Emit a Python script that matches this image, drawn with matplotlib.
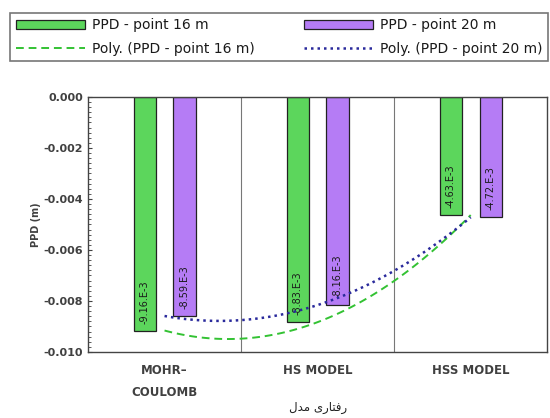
import matplotlib
matplotlib.use("Agg")
import matplotlib.pyplot as plt
import numpy as np
from matplotlib.ticker import MultipleLocator, FuncFormatter

# data
categories = ["MOHR\u2013\nCOULOMB", "HS MODEL", "HSS MODEL"]
ppd_16m = [-9.16e-3, -8.83e-3, -4.63e-3]
ppd_20m = [-8.59e-3, -8.16e-3, -4.72e-3]
series_names = ["PPD - point 16 m", "PPD - point 20 m"]
# "مدل رفتاری" as joined presentation forms, words laid out as in the reference
xlabel_fa = "\uFEDD\uFEAA\uFEE3 \uFEEF\uFEAD\uFE8E\uFE98\uFED3\uFEAD"

GREEN = "#5cd65c"
PURPLE = "#b57cf5"
DARK = "#404040"


def bar_label(ax, x, v):
    ax.annotate(f"{v * 1000:.2f}.E-3", (x, v), xytext=(0, 5), textcoords="offset points",
                rotation=90, ha="center", va="bottom", fontsize=7, color="#1a1a1a")


fig = plt.figure(figsize=(5.5, 4.18), dpi=100)
ax = fig.add_axes([0.16, 0.158, 0.835, 0.61])

x = np.arange(1, len(categories) + 1)
w = 0.145
off = 0.13
b1 = ax.bar(x - off, ppd_16m, w, color=GREEN, edgecolor="#222222", linewidth=0.9,
            label=series_names[0], zorder=2)
b2 = ax.bar(x + off, ppd_20m, w, color=PURPLE, edgecolor="#222222", linewidth=0.9,
            label=series_names[1], zorder=2)
for xi, v in zip(x - off, ppd_16m):
    bar_label(ax, xi, v)
for xi, v in zip(x + off, ppd_20m):
    bar_label(ax, xi, v)

# order-2 polynomial trendlines like Excel
xs = np.linspace(1, 3, 100)
p16 = np.polyfit(x, ppd_16m, 2)
p20 = np.polyfit(x, ppd_20m, 2)
l1, = ax.plot(xs, np.polyval(p16, xs), color="#33c233", ls=(0, (4, 2.5)), lw=1.4,
              label="Poly. (" + series_names[0] + ")", zorder=3)
l2, = ax.plot(xs, np.polyval(p20, xs), color="#2a2a9c", ls=(0, (1, 1.6)), lw=1.8,
              label="Poly. (" + series_names[1] + ")", zorder=3)

# category separators
for s in [1.5, 2.5]:
    ax.axvline(s, color="#777777", lw=0.8, zorder=1)

ax.set_xlim(0.5, 3.5)
ax.set_ylim(-0.010, 0.0)
ax.yaxis.set_major_locator(MultipleLocator(0.002))
ax.yaxis.set_minor_locator(MultipleLocator(0.0002))
ax.yaxis.set_major_formatter(FuncFormatter(lambda v, p: f"{v:.3f}" if abs(v) > 1e-9 else "0.000"))
ax.tick_params(axis="y", which="both", direction="in", color=DARK, labelsize=8,
               labelcolor=DARK, length=3)
ax.tick_params(axis="y", which="minor", length=2)
ax.set_xticks(x)
ax.set_xticklabels(categories, fontsize=8.5, fontweight="bold", color=DARK, linespacing=1.9)
ax.tick_params(axis="x", length=0, pad=9)
for lab in ax.get_yticklabels():
    lab.set_fontweight("bold")
for sp in ax.spines.values():
    sp.set_color("#444444")
    sp.set_linewidth(1.0)

ax.set_ylabel("PPD (m)", fontsize=7, fontweight="bold", color=DARK, labelpad=2)
ax.set_xlabel(xlabel_fa, fontsize=8.5, color="#222222", family="DejaVu Sans", labelpad=1)

leg = fig.legend(handles=[b1, l1, b2, l2], ncol=2, loc="center",
                 bbox_to_anchor=(10 / 550, 1 - 62 / 418, 538 / 550, 50 / 418), mode="expand",
                 prop={"size": 10}, handlelength=5.0, handleheight=0.6,
                 handletextpad=0.5, columnspacing=0.8, labelspacing=0.7, frameon=True,
                 fancybox=False, borderpad=0.4, borderaxespad=0)
leg.get_frame().set_edgecolor("#555555")
leg.get_frame().set_linewidth(1.2)
for t in leg.get_texts():
    t.set_color("#1a1a1a")

fig.savefig("out.png", dpi=100)
